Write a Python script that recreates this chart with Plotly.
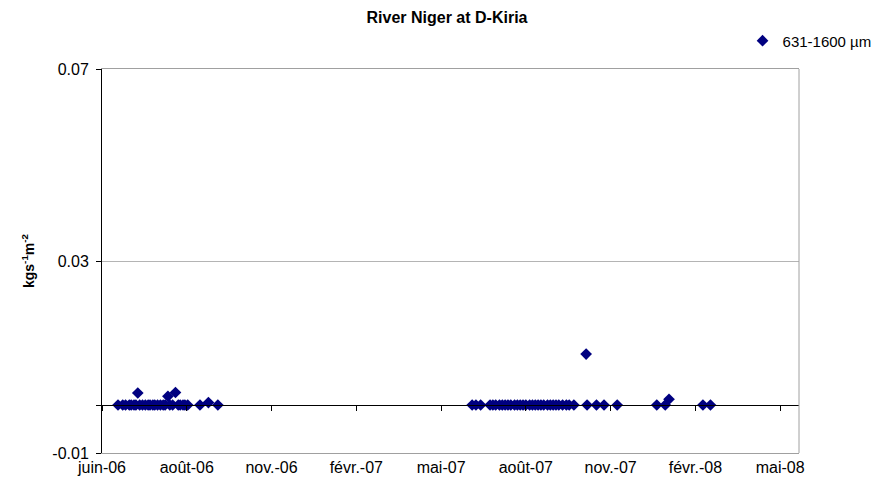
import plotly.graph_objects as go

# ---- data ----
dates = [
    "2006-06-18", "2006-06-23", "2006-06-26", "2006-06-30", "2006-07-02", "2006-07-05",
    "2006-07-07", "2006-07-09", "2006-07-11", "2006-07-14", "2006-07-17", "2006-07-20",
    "2006-07-22", "2006-07-25", "2006-07-27", "2006-07-30", "2006-08-02", "2006-08-05",
    "2006-08-07", "2006-08-10", "2006-08-12", "2006-08-15", "2006-08-18", "2006-08-21",
    "2006-08-23", "2006-08-26", "2006-08-28", "2006-08-31", "2006-09-13", "2006-09-22",
    "2006-10-02",
    "2007-06-29", "2007-07-03", "2007-07-08", "2007-07-18", "2007-07-21", "2007-07-24",
    "2007-07-28", "2007-07-31", "2007-08-03", "2007-08-06", "2007-08-09", "2007-08-13",
    "2007-08-16", "2007-08-19", "2007-08-22", "2007-08-25", "2007-08-29", "2007-09-01",
    "2007-09-04", "2007-09-07", "2007-09-10", "2007-09-13", "2007-09-17", "2007-09-20",
    "2007-09-23", "2007-09-26", "2007-09-29", "2007-10-03", "2007-10-07", "2007-10-10",
    "2007-10-15", "2007-10-28", "2007-10-29", "2007-11-08", "2007-11-16", "2007-11-30",
    "2008-01-11", "2008-01-20", "2008-01-24", "2008-02-29", "2008-03-08",
]
flux = [
    0.0, 0.0, 0.0, 0.0, 0.0, 0.0,
    0.0, 0.0025, 0.0, 0.0, 0.0, 0.0,
    0.0, 0.0, 0.0, 0.0, 0.0, 0.0,
    0.0, 0.0018, 0.0, 0.0, 0.0026, 0.0,
    0.0, 0.0, 0.0, 0.0, 0.0, 0.0005,
    0.0,
    0.0, 0.0, 0.0, 0.0, 0.0, 0.0,
    0.0, 0.0, 0.0, 0.0, 0.0, 0.0,
    0.0, 0.0, 0.0, 0.0, 0.0, 0.0,
    0.0, 0.0, 0.0, 0.0, 0.0, 0.0,
    0.0, 0.0, 0.0, 0.0, 0.0, 0.0,
    0.0, 0.0106, 0.0, 0.0, 0.0, 0.0,
    0.0, 0.0, 0.0012, 0.0, 0.0,
]
series_name = "631-1600 µm"

x_tick_vals = ["2006-06-01", "2006-08-30", "2006-11-28", "2007-02-26", "2007-05-27",
               "2007-08-25", "2007-11-23", "2008-02-21", "2008-05-21"]
x_tick_text = ["juin-06", "août-06", "nov.-06", "févr.-07", "mai-07",
               "août-07", "nov.-07", "févr.-08", "mai-08"]
x_range = ["2006-06-01", "2008-06-10"]

y_tick_vals = [-0.01, 0.0, 0.03, 0.07]
y_tick_text = ["-0.01", "", "0.03", "0.07"]
y_range = [-0.01, 0.07]

FONT = "Liberation Sans, Arial, sans-serif"
NAVY = "#000080"

W, H = 885, 490  # page body has an 8px default margin

fig = go.Figure()
fig.add_trace(go.Scatter(
    x=dates, y=flux, mode="markers", name=series_name,
    marker=dict(symbol="diamond", size=9, color=NAVY, line=dict(width=0)),
))
# helper trace so the zero-crossing axis is drawn
fig.add_trace(go.Scatter(x=[], y=[], xaxis="x2", showlegend=False, hoverinfo="skip"))

fig.update_layout(
    width=W, height=H,
    margin=dict(l=94, r=94, t=61, b=45, autoexpand=False),
    paper_bgcolor="white", plot_bgcolor="white",
    font=dict(family=FONT, size=15, color="black"),
    title=dict(text="<b>River Niger at D-Kiria</b>", x=(447 - 8) / W, xref="container", xanchor="center",
               y=1 - 9 / H, yref="container", yanchor="middle",
               font=dict(family=FONT, size=16, color="black")),
    showlegend=True,
    legend=dict(x=0.919, y=1.073, xanchor="left", yanchor="middle", itemwidth=30,
                font=dict(family=FONT, size=15, color="black"),
                bgcolor="rgba(0,0,0,0)", borderwidth=0),
    xaxis=dict(
        type="date", range=x_range, tickmode="array", tickvals=x_tick_vals, ticktext=x_tick_text,
        showgrid=False, zeroline=False, ticks="", showline=True, linecolor="#a0a0a0", linewidth=1,
        mirror=True, automargin=False, tickfont=dict(family=FONT, size=16, color="black"),
    ),
    xaxis2=dict(
        type="date", range=x_range, overlaying="x", anchor="free", position=0.125,
        tickmode="array", tickvals=x_tick_vals, showticklabels=False,
        ticks="outside", ticklen=5, tickcolor="black", tickwidth=1,
        showline=True, linecolor="black", linewidth=1, showgrid=False, zeroline=False,
        automargin=False,
    ),
    yaxis=dict(
        range=y_range, tickmode="array", tickvals=y_tick_vals, ticktext=y_tick_text,
        showgrid=True, gridcolor="#b4b4b4", gridwidth=1, zeroline=False,
        ticks="outside", ticklen=5, tickcolor="black", showline=True, linecolor="black", linewidth=1,
        ticklabelstandoff=4, automargin=False,
        tickfont=dict(family=FONT, size=16, color="black"),
        title=dict(text="<b>kgs<sup>-1</sup>m<sup>-2</sup></b>", standoff=14,
                   font=dict(family=FONT, size=14, color="black")),
    ),
    shapes=[dict(type="line", xref="paper", yref="paper", x0=1, x1=1, y0=0, y1=1,
                 line=dict(color="#a0a0a0", width=1))],
)

fig.write_html("out.html")
